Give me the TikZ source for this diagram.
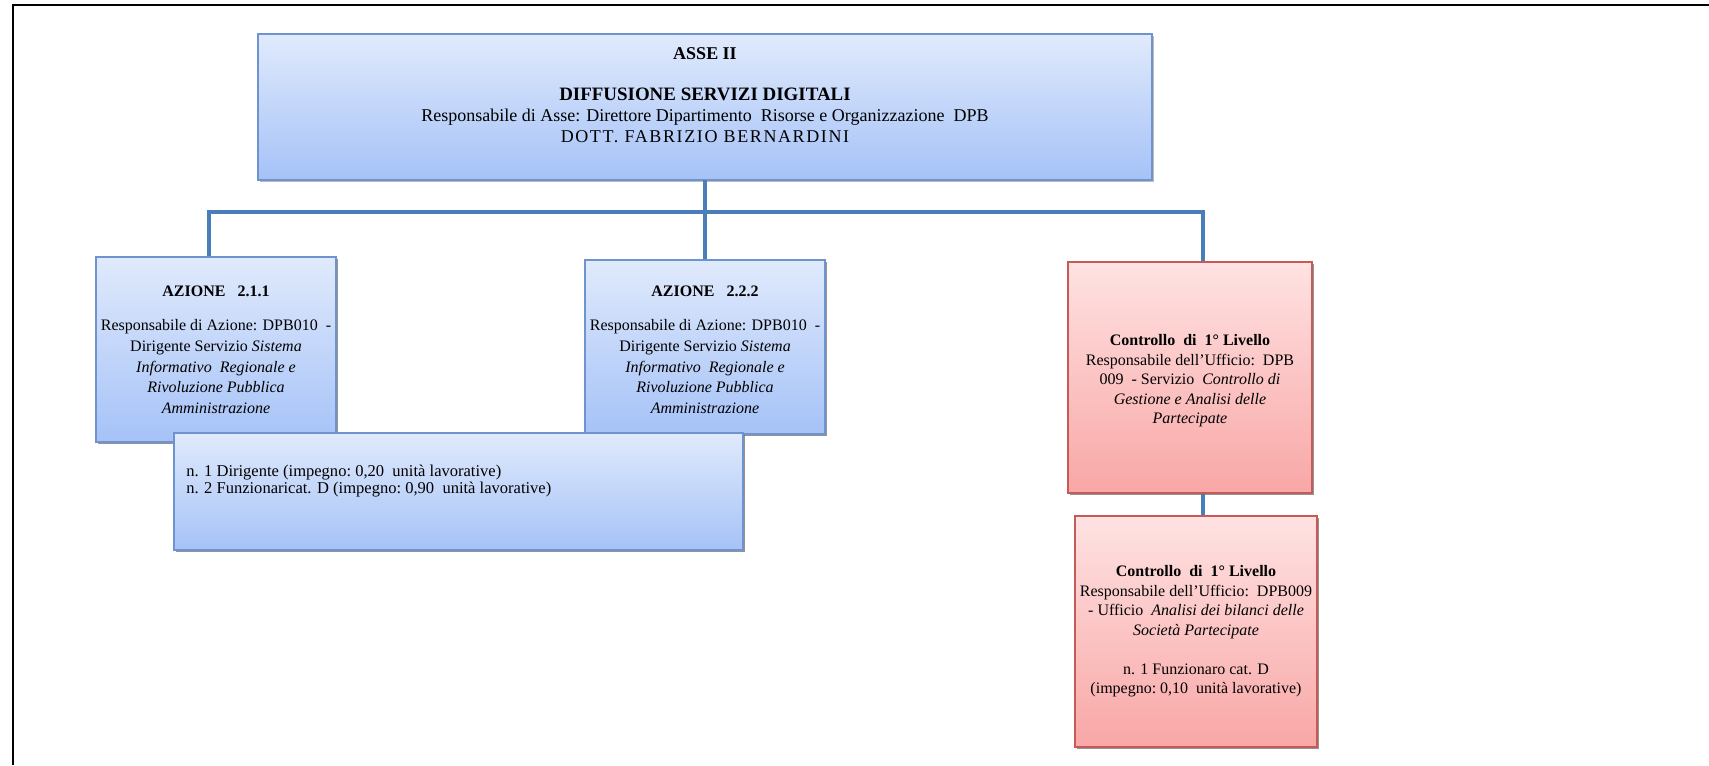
\documentclass[tikz,border=0pt]{standalone}
\usepackage{fontspec}
\setmainfont{Liberation Serif}
\usetikzlibrary{shadows}
\definecolor{bluetop}{HTML}{E0EAFC}
\definecolor{bluebot}{HTML}{A5C2F7}
\definecolor{blueborder}{HTML}{6F93CE}
\definecolor{conncol}{HTML}{4A7EBB}
\definecolor{redtop}{HTML}{FFE2E2}
\definecolor{redbot}{HTML}{F8A7A6}
\definecolor{redborder}{HTML}{C65A57}
\tikzset{
  boxbase/.style={rectangle, inner sep=0pt, outer sep=0pt, line width=1pt,
    drop shadow={shadow xshift=1.6pt, shadow yshift=-1.6pt, fill=black!60, opacity=0.45}},
  bluebox/.style={boxbase, draw=blueborder, top color=bluetop, bottom color=bluebot},
  redbox/.style={boxbase, draw=redborder, top color=redtop, bottom color=redbot},
  txt/.style={align=center, inner sep=0pt, font=\fontsize{12}{15.5}\selectfont},
  conn/.style={draw=conncol, line width=2.8pt},
}
\begin{document}
\begin{tikzpicture}[x=0.75pt,y=-0.75pt]
\useasboundingbox (0,0) rectangle (1709,765);
\draw[line width=1.6pt, black] (13,765) -- (13,5) -- (1709,5);

% boxes (positions in reference pixels)
\node[bluebox, minimum width=670.5pt, minimum height=109.5pt] (top) at (705,107) {};
\node[bluebox, minimum width=180pt, minimum height=138.75pt] (az211) at (216,349.5) {};
\node[bluebox, minimum width=180pt, minimum height=130.5pt] (az222) at (705,347) {};
\node[bluebox, minimum width=426.75pt, minimum height=87.75pt] (staff) at (458.5,491.5) {};
\node[redbox, minimum width=183pt, minimum height=173.25pt] (ctrl1) at (1190,377.5) {};
\node[redbox, minimum width=181.5pt, minimum height=173.25pt] (ctrl2) at (1196,631.5) {};

% connectors
\coordinate (b1) at (209,212);
\coordinate (b2) at (1203,212);
\draw[conn] (top.south) -- (az222.north);
\draw[conn] (az211.north -| b1) -- (b1) -- (b2) -- (ctrl1.north -| b2);
\draw[conn] (ctrl1.south -| b2) -- (ctrl2.north -| b2);
% redraw boxes over connector ends
\node[bluebox, minimum width=180pt, minimum height=138.75pt] at (216,349.5) {};
\node[bluebox, minimum width=180pt, minimum height=130.5pt] at (705,347) {};
\node[bluebox, minimum width=426.75pt, minimum height=87.75pt] at (458.5,491.5) {};
\node[redbox, minimum width=183pt, minimum height=173.25pt] at (1190,377.5) {};
\node[redbox, minimum width=181.5pt, minimum height=173.25pt] at (1196,631.5) {};

% texts
\node[txt, font=\fontsize{13.5}{15.5}\selectfont] (toptext) at (705,95) {\textbf{ASSE II}\\[15.5pt]
  {\fontsize{14.2}{15.5}\selectfont\textbf{DIFFUSIONE SERVIZI DIGITALI}}\\
  Responsabile di Asse: Direttore Dipartimento\ \ Risorse e Organizzazione\ \ DPB\\
  {\addfontfeature{LetterSpace=9}DOTT. FABRIZIO BERNARDINI}};
\node[txt] (az211text) at (216,350) {\textbf{AZIONE\ \ \ 2.1.1}\\[10pt]
  Responsabile di Azione: DPB010\ \ -\\
  Dirigente\ Servizio \textit{Sistema}\\
  \textit{Informativo\ \ Regionale e}\\
  \textit{Rivoluzione Pubblica}\\
  \textit{Amministrazione}};
\node[txt] (az222text) at (705,350) {\textbf{AZIONE\ \ \ 2.2.2}\\[10pt]
  Responsabile di Azione: DPB010\ \ -\\
  Dirigente\ Servizio \textit{Sistema}\\
  \textit{Informativo\ \ Regionale e}\\
  \textit{Rivoluzione Pubblica}\\
  \textit{Amministrazione}};
\node[txt, align=left, anchor=west, font=\fontsize{12.4}{13}\selectfont] (stafftext) at (186,481) {n. 1 Dirigente\ (impegno:\ 0,20\ \ unità lavorative)\\
  n. 2 Funzionaricat. D (impegno:\ 0,90\ \ unità lavorative)};
\node[txt, font=\fontsize{12}{14.6}\selectfont] (ctrl1text) at (1190,381) {\textbf{Controllo\ \ di\ \ 1° Livello}\\
  Responsabile dell'Ufficio:\ \ DPB\\
  009\ \ - Servizio\ \ \textit{Controllo di}\\
  \textit{Gestione e Analisi delle}\\
  \textit{Partecipate}};
\node[txt, font=\fontsize{12}{14.6}\selectfont] (ctrl2text) at (1196,631.5) {\textbf{Controllo\ \ di\ \ 1° Livello}\\
  Responsabile dell'Ufficio:\ \ DPB009\\
  - Ufficio\ \ \textit{Analisi dei bilanci delle}\\
  \textit{Società Partecipate}\\[14.6pt]
  n. 1 Funzionaro\ cat. D\\
  (impegno:\ 0,10\ \ unità lavorative)};
\end{tikzpicture}
\end{document}
